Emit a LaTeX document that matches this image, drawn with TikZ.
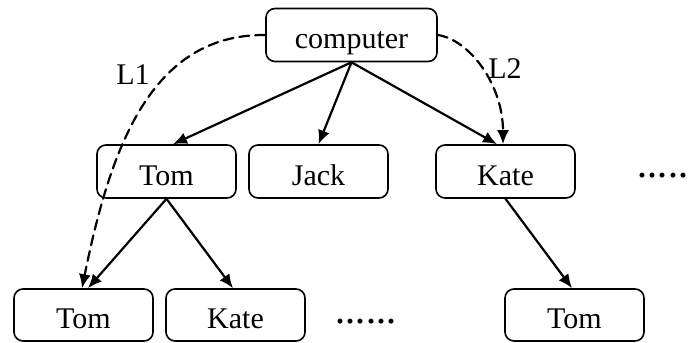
\documentclass[tikz,border=0pt]{standalone}
\usepackage{fontspec}
\setmainfont{Liberation Serif}
\usetikzlibrary{arrows.meta}
\tikzset{
  box/.style={draw,rounded corners=4.5pt,line width=.8pt,inner sep=0pt,
    minimum width=69.5pt,minimum height=26.5pt,text height=13.5pt,text depth=0pt},
  link/.style={->,line width=1.1pt},
  trail/.style={->,line width=1.1pt,dash pattern=on 5pt off 3pt},
  tag/.style={inner sep=0pt},
  more/.style={inner sep=0pt,anchor=base west,font=\fontsize{21}{24}\selectfont}
}
\newcommand\dotrow[1]{\foreach\i in {1,...,#1}{\textperiodcentered\kern-1.85pt}}
\begin{document}
\begin{tikzpicture}[x=.5pt,y=-.5pt,>={Latex[length=7pt,width=6pt]},
 line cap=round,line join=round,font=\fontsize{15}{18}\selectfont]
\useasboundingbox (0,0) rectangle (688,342);
% tree
\node[box,minimum width=85.5pt] (comp) at (351.5,35) {computer};
\node[box] (tomA) at (166.5,171.5) {Tom};
\node[box] (jack) at (318.5,171.5) {Jack};
\node[box] (kateA) at (505.5,171.5) {Kate};
\node[box,minimum height=26pt] (tomB) at (83.5,315) {Tom};
\node[box,minimum height=26pt] (kateB) at (235.5,315) {Kate};
\node[box,minimum height=26pt] (tomC) at (574.5,315) {Tom};
\node[more] (moreA) at (635,189) {\dotrow{5}};
\node[more] (moreB) at (333,335) {\dotrow{6}};
\draw[link] (comp.south) -- ([xshift=3.25pt]tomA.north);
\draw[link] (comp.south) -- (jack.north);
\draw[link] (comp.south) -- ([xshift=-4.25pt]kateA.north);
\draw[link] (tomA.south) -- ([xshift=2.25pt]tomB.north);
\draw[link] (tomA.south) -- ([xshift=-1.25pt]kateB.north);
\draw[link] (kateA.south) -- ([xshift=-1.25pt]tomC.north);
% search paths
\draw[trail] (comp.west) .. controls (150,34) and (110,150) .. ([xshift=-.75pt]tomB.north);
\draw[trail] (comp.east) .. controls (470,40) and (503,85) .. ([xshift=-1.25pt]kateA.north);
\node[tag] (l1) at (133,75) {L1};
\node[tag] (l2) at (505,69) {L2};
\end{tikzpicture}
\end{document}
